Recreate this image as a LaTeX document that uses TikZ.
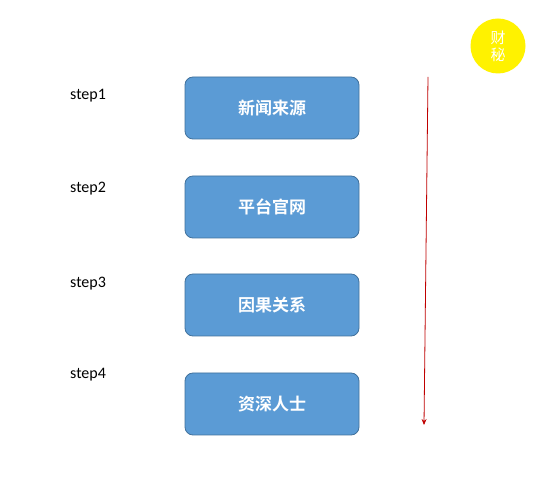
\documentclass[tikz,border=0pt]{standalone}
\usepackage{fontspec}
\usetikzlibrary{arrows.meta}
\setmainfont{Carlito}
\newfontfamily\cjk{Noto Sans CJK SC}
\newfontfamily\cjkb{Noto Sans CJK SC Bold}
\definecolor{boxfill}{HTML}{5B9BD5}
\definecolor{boxline}{HTML}{41719C}
\definecolor{arrowred}{HTML}{C00000}
\definecolor{sunny}{HTML}{FFF200}
\tikzset{
  stepbox/.style={draw=boxline, line width=0.8pt, fill=boxfill, rounded corners=8pt,
    minimum width=174pt, minimum height=62pt, inner sep=0pt,
    text=white, font=\cjkb\fontsize{17}{17}\selectfont},
  steplabel/.style={anchor=west, inner sep=0pt, font=\fontsize{16}{16}\selectfont},
}
\begin{document}
\begin{tikzpicture}[x=1pt,y=-1pt]
\useasboundingbox (0,0) rectangle (536,486);
\fill[white] (0,0) rectangle (536,486);
\node[stepbox] (b1) at (272,108) {新闻来源};
\node[stepbox] (b2) at (272,207) {平台官网};
\node[stepbox] (b3) at (272,305) {因果关系};
\node[stepbox] (b4) at (272,404) {资深人士};
\node[steplabel] (s1) at (70,96) {step1};
\node[steplabel] (s2) at (70,189) {step2};
\node[steplabel] (s3) at (70,284) {step3};
\node[steplabel] (s4) at (70,375) {step4};
\node[circle, fill=sunny, minimum size=55pt, inner sep=0pt, text=white,
  font=\cjk\fontsize{15}{17}\selectfont, align=center] (c) at (498,46) {财\\秘};
\coordinate (a1) at (428,77);
\coordinate (a2) at (424,425);
\draw[arrowred, line width=0.8pt, -{Stealth[length=6pt,width=5pt]}] (a1) -- (a2);
\end{tikzpicture}
\end{document}
